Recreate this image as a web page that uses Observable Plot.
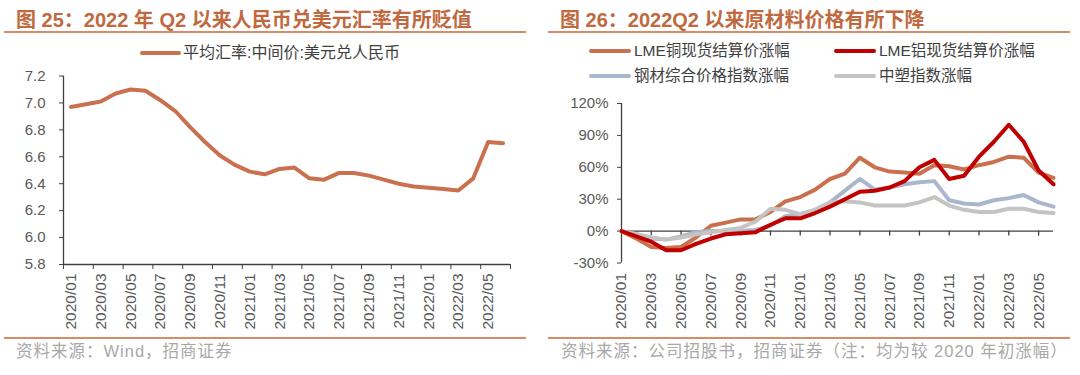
<!DOCTYPE html>
<html><head><meta charset="utf-8">
<script src="https://cdn.jsdelivr.net/npm/d3@7"></script>
<script src="https://cdn.jsdelivr.net/npm/@observablehq/plot@0.6"></script>
<style>
body{margin:0;width:1080px;height:375px;background:#fff;position:relative;overflow:hidden;font-family:"Liberation Sans",Arial,"Noto Sans CJK SC",sans-serif;}
.title{position:absolute;top:10px;line-height:20px;font-size:20px;font-weight:bold;color:#C0693F;white-space:nowrap;}
.rule{position:absolute;height:2px;background:#D98A66;}
.src{position:absolute;top:342px;line-height:18px;font-size:16.5px;letter-spacing:1px;color:#A8A8A8;white-space:nowrap;}
.leg{position:absolute;font-size:15.5px;line-height:16px;color:#404040;white-space:nowrap;display:flex;align-items:center;}
.leg i{display:inline-block;width:42px;height:4px;margin-right:3px;border-radius:2px;}
.chart{position:absolute;top:60px;}
</style></head>
<body>
<div class="title" style="left:16px">图 25：2022 年 Q2 以来人民币兑美元汇率有所贬值</div>
<div class="rule" style="left:4px;width:522px;top:31px"></div>
<div class="leg" style="left:140px;top:45px;font-size:16px"><i style="background:#C9714E;width:41px;margin-right:2px"></i>平均汇率:中间价:美元兑人民币</div>
<div id="left" class="chart" style="left:0"></div>
<div class="rule" style="left:4px;width:522px;top:337px"></div>
<div class="src" style="left:16px">资料来源：Wind，招商证券</div>

<div class="title" style="left:560px">图 26：2022Q2 以来原材料价格有所下降</div>
<div class="rule" style="left:548px;width:522px;top:31px"></div>
<div class="leg" style="left:589px;top:43px"><i style="background:#C9714E"></i>LME铜现货结算价涨幅</div>
<div class="leg" style="left:834px;top:43px"><i style="background:#C00000"></i>LME铝现货结算价涨幅</div>
<div class="leg" style="left:589px;top:68px"><i style="background:#A9B6CB"></i>钢材综合价格指数涨幅</div>
<div class="leg" style="left:834px;top:68px"><i style="background:#C4C4C4"></i>中塑指数涨幅</div>
<div id="right" class="chart" style="left:540px"></div>
<div class="rule" style="left:548px;width:522px;top:337px"></div>
<div class="src" style="left:561px">资料来源：公司招股书，招商证券（注：均为较 2020 年初涨幅）</div>

<script>
const months = ["2020/01","2020/02","2020/03","2020/04","2020/05","2020/06","2020/07","2020/08","2020/09","2020/10","2020/11","2020/12",
  "2021/01","2021/02","2021/03","2021/04","2021/05","2021/06","2021/07","2021/08","2021/09","2021/10","2021/11","2021/12",
  "2022/01","2022/02","2022/03","2022/04","2022/05","2022/06"];
const cnyRate = [6.97,6.99,7.01,7.07,7.10,7.09,7.02,6.94,6.82,6.71,6.61,6.54,6.49,6.47,6.51,6.52,6.44,6.43,6.48,6.48,6.46,6.43,6.40,6.38,6.37,6.36,6.35,6.44,6.71,6.70];
const leftYTicks = [5.8,6.0,6.2,6.4,6.6,6.8,7.0,7.2];

const copper   = [0,-7,-15,-16,-15,-6,5,8,11,11,18,28,32,39,49,54,69,60,56,55,54,62,61,58,62,65,70,69,55,50];
const aluminum = [0,-5,-10,-18,-18,-12,-7,-3,-2,-1,6,12,12,17,23,30,37,38,41,47,60,67,49,52,70,84,100,84,57,44];
const steel    = [0,-3,-7,-8,-5,-1,0,0,0,1,5,14,16,20,27,38,49,39,41,44,46,47,29,26,25,29,31,34,27,23];
const plastic  = [0,-3,-6,-8,-6,-3,-1,1,3,9,21,20,16,20,27,28,27,24,24,24,27,32,24,20,18,18,21,21,18,17];
const rightYTicks = [-30,0,30,60,90,120];
const seriesNames = ["LME铜现货结算价涨幅","钢材综合价格指数涨幅","中塑指数涨幅","LME铝现货结算价涨幅"];
const seriesColors = ["#C9714E","#A9B6CB","#C4C4C4","#C00000"];
const seriesValues = [copper, steel, plastic, aluminum];

const axisColor = "#404040";
const style = {fontFamily:'"Liberation Sans",Arial,sans-serif', fontSize:"15px", color:"#595959", background:"transparent", overflow:"visible"};
const xLabelStyle = {fontSize:"15.5px"};

const leftData = months.map((m,i)=>({i, m, v: cnyRate[i]}));
const evenIdx = months.map((m,i)=>i).filter(i=>i%2===0);

const left = Plot.plot({
  width:540, height:275, marginTop:15.5, marginBottom:71, marginLeft:63, marginRight:30,
  style,
  x:{domain:[0, months.length]},
  y:{domain:[5.8, 7.2]},
  marks:[
    Plot.axisY({ticks:leftYTicks, tickFormat:d3.format(".1f"), tickSize:4, tickPadding:14, label:null, stroke:axisColor}),
    Plot.axisX({ticks:[...evenIdx, months.length], tickSize:5, tickFormat:()=>"", label:null, stroke:axisColor}),
    Plot.axisX({ticks:evenIdx.map(i=>i+0.5), tickSize:0, tickPadding:9, tickRotate:-90, fontSize:15.5, tickFormat:d=>months[Math.round(d-0.5)], label:null}),
    Plot.ruleX([0], {stroke:axisColor, strokeWidth:1.3}),
    Plot.ruleY([5.8], {stroke:axisColor, strokeWidth:1.3}),
    Plot.line(leftData, {x:d=>d.i+0.5, y:"v", stroke:"#C9714E", strokeWidth:4, strokeLinejoin:"round"})
  ]
});
document.getElementById("left").appendChild(left);

const rightData = [];
seriesValues.forEach((vals, s) => vals.forEach((v,i)=>rightData.push({s: seriesNames[s], i, v})));

const right = Plot.plot({
  width:540, height:275, marginTop:43, marginBottom:72.5, marginLeft:81, marginRight:27,
  style,
  x:{domain:[0, months.length-1]},
  y:{domain:[-30, 120]},
  color:{domain:seriesNames, range:seriesColors},
  marks:[
    Plot.axisY({ticks:rightYTicks, tickFormat:d=>d+"%", tickSize:4, tickPadding:9, label:null, stroke:axisColor}),
    Plot.axisX({ticks:evenIdx, tickSize:0, tickPadding:10, tickRotate:-90, fontSize:15.5, tickFormat:d=>months[d], label:null}),
    Plot.ruleX(evenIdx.filter(i=>i>0), {x:d=>d, y1:()=>0, y2:()=>0, insetBottom:-5, stroke:axisColor, strokeWidth:1.3}),
    Plot.ruleX([0], {stroke:axisColor, strokeWidth:1.3}),
    Plot.ruleY([0], {stroke:axisColor, strokeWidth:1.3}),
    Plot.line(rightData, {x:"i", y:"v", z:"s", stroke:"s", strokeWidth:4, strokeLinejoin:"round"})
  ]
});
document.getElementById("right").appendChild(right);
</script>
</body></html>
